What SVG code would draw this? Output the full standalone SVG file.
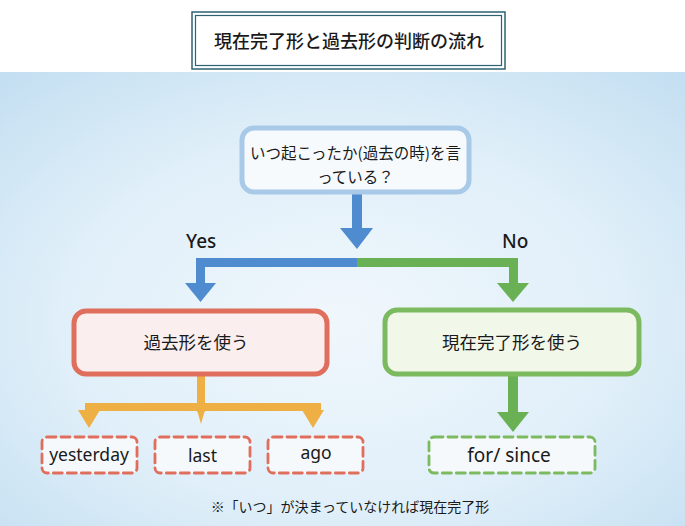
<svg xmlns="http://www.w3.org/2000/svg" width="685" height="526" viewBox="0 0 685 526">
<defs>
<radialGradient id="sky" cx="0.5" cy="0.55" r="0.75">
<stop offset="0" stop-color="#f0f7fc"/>
<stop offset="0.55" stop-color="#e0eff9"/>
<stop offset="1" stop-color="#c2def1"/>
</radialGradient>
<style>
.jp{font-family:"Noto Sans CJK JP","Noto Sans",sans-serif;fill:#1a1a1a}
.en{font-family:"Noto Sans","Open Sans",sans-serif;fill:#1a1a1a}
.dash{fill:#f6f9fb;stroke-width:2.8;stroke-dasharray:9 5;stroke-linecap:round}
</style>
</defs>
<rect x="0" y="0" width="685" height="526" fill="#ffffff"/>
<rect x="0" y="72" width="685" height="454" fill="url(#sky)"/>

<g id="title">
<rect x="192" y="12" width="313" height="57" fill="#ffffff" stroke="#2e6273" stroke-width="1.5"/>
<rect x="195.5" y="15.5" width="306" height="50" fill="none" stroke="#2e6273" stroke-width="1.2"/>
<text class="jp" x="349" y="47.5" font-size="18" font-weight="500" text-anchor="middle">現在完了形と過去形の判断の流れ</text>
</g>

<g id="connectors">
<rect x="352" y="191" width="10" height="38" fill="#4f8bcf"/>
<polygon points="340,228 373,228 357,249" fill="#4f8bcf"/>
<rect x="196" y="258" width="161" height="9" fill="#4f8bcf"/>
<rect x="357" y="258" width="161" height="9" fill="#6ab155"/>
<rect x="196" y="258" width="9" height="27" fill="#4f8bcf"/>
<polygon points="185,283 216,283 200.5,302" fill="#4f8bcf"/>
<rect x="509" y="258" width="9" height="27" fill="#6ab155"/>
<polygon points="497,283 529,283 513,302" fill="#6ab155"/>
<rect x="197" y="374" width="8" height="38" fill="#eeaf45"/>
<rect x="85" y="403" width="236" height="8" fill="#eeaf45"/>
<rect x="85" y="403" width="8" height="10" fill="#eeaf45"/>
<polygon points="78,410 100,410 89,428" fill="#eeaf45"/>
<polygon points="197,410 205,410 201,424" fill="#eeaf45"/>
<rect x="309" y="403" width="8" height="10" fill="#eeaf45"/>
<polygon points="302,410 324,410 313,428" fill="#eeaf45"/>
<rect x="508" y="374" width="10" height="40" fill="#6ab155"/>
<polygon points="497,412 529,412 513,432" fill="#6ab155"/>
</g>

<g id="question">
<rect x="242" y="128" width="227" height="64" rx="12" fill="#f6fafd" stroke="#a9c9e8" stroke-width="5"/>
<text class="jp" x="355.5" y="159" font-size="15.5" text-anchor="middle">いつ起こったか(過去の時)を言</text>
<text class="jp" x="355.5" y="183" font-size="15.5" text-anchor="middle">っている？</text>
</g>

<g id="label-yes"><text class="en" x="186" y="248" font-size="19" font-weight="500">Yes</text></g>
<g id="label-no"><text class="en" x="502" y="248" font-size="19" font-weight="500">No</text></g>

<g id="past">
<rect x="74" y="311" width="253" height="63" rx="12" fill="#fbeeee" stroke="#e06e5c" stroke-width="5"/>
<text class="jp" x="196" y="348.5" font-size="17.5" text-anchor="middle">過去形を使う</text>
</g>

<g id="perfect">
<rect x="385" y="310" width="254" height="64" rx="12" fill="#f1f7e9" stroke="#7cba5f" stroke-width="5"/>
<text class="jp" x="512" y="348.5" font-size="17.5" text-anchor="middle">現在完了形を使う</text>
</g>

<g id="yesterday">
<rect x="42" y="437" width="95" height="36" rx="5" class="dash" stroke="#e06e5c"/>
<text class="en" x="89" y="461" font-size="17.5" text-anchor="middle">yesterday</text>
</g>
<g id="last">
<rect x="155" y="437" width="95" height="36" rx="5" class="dash" stroke="#e06e5c"/>
<text class="en" x="202.5" y="462" font-size="17.5" text-anchor="middle">last</text>
</g>
<g id="ago">
<rect x="268" y="437" width="95" height="36" rx="5" class="dash" stroke="#e06e5c"/>
<text class="en" x="316" y="459" font-size="17.5" text-anchor="middle">ago</text>
</g>
<g id="forsince">
<rect x="429" y="437" width="166" height="36" rx="5" class="dash" stroke="#7cba5f"/>
<text class="en" x="509" y="462" font-size="19" text-anchor="middle">for/ since</text>
</g>

<g id="note">
<text class="jp" x="350" y="512" font-size="14" text-anchor="middle">※「いつ」が決まっていなければ現在完了形</text>
</g>
</svg>
